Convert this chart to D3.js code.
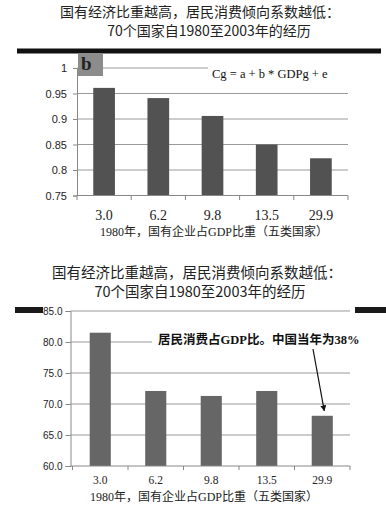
<!DOCTYPE html>
<html><head><meta charset="utf-8">
<script src="https://cdn.jsdelivr.net/npm/d3@7"></script>
<style>body{margin:0;background:#fff}svg{display:block}</style>
</head><body>
<script>
const categories = ["3.0","6.2","9.8","13.5","29.9"];
const propensity = [0.961, 0.941, 0.906, 0.850, 0.823];
const consumptionShare = [81.5, 72.1, 71.3, 72.1, 68.1];
const topTicks = [0.75, 0.8, 0.85, 0.9, 0.95, 1];
const bottomTicks = [60, 65, 70, 75, 80, 85];
const titleLines = ["国有经济比重越高，居民消费倾向系数越低：", "70个国家自1980至2003年的经历"];
const xTitle = "1980年，国有企业占GDP比重（五类国家）";
const formula = "Cg = a + b * GDPg + e";
const note = "居民消费占GDP比。中国当年为38%";

const W = 386, H = 516;
const svg = d3.select("body").append("svg").attr("width", W).attr("height", H);
const CJK = "'Noto Sans CJK SC', sans-serif";
const SERIF = "'Liberation Serif', 'Noto Sans CJK SC', serif";
const SANS = "'Liberation Sans', Arial, sans-serif";

// ---------- Top chart ----------
const t = svg.append("g");
t.append("text").attr("x", 200).attr("y", 17).attr("text-anchor", "middle")
  .style("font-family", CJK).style("font-size", "14px").attr("fill", "#222").text(titleLines[0]);
t.append("text").attr("x", 209).attr("y", 36).attr("text-anchor", "middle")
  .style("font-family", CJK).style("font-size", "14px").attr("fill", "#222").text(titleLines[1]);
t.append("rect").attr("x", 17).attr("y", 48.5).attr("width", 364).attr("height", 5).attr("fill", "#111");

const x1 = d3.scaleBand().domain(categories).range([77, 348]).paddingInner(0.6).paddingOuter(0.3);
const y1 = d3.scaleLinear().domain([0.75, 1]).range([195.5, 68]);

t.selectAll(".g1").data(topTicks.slice(1)).join("line")
  .attr("x1", 77).attr("x2", 348).attr("y1", d => y1(d)).attr("y2", d => y1(d))
  .attr("stroke", "#9a9a9a").attr("stroke-width", 1);

t.selectAll(".b1").data(propensity).join("rect")
  .attr("x", (d, i) => x1(categories[i])).attr("width", x1.bandwidth())
  .attr("y", d => y1(d)).attr("height", d => y1(0.75) - y1(d)).attr("fill", "#525252");

const ay1 = t.append("g").attr("transform", "translate(77,0)")
  .call(d3.axisLeft(y1).tickValues(topTicks).tickSize(4).tickPadding(6).tickFormat(d => d === 1 ? "1" : d3.format("")(d)));
ay1.select(".domain").attr("stroke", "#888");
ay1.selectAll(".tick line").attr("stroke", "#888");
ay1.selectAll("text").style("font-family", SANS).style("font-size", "11px").attr("fill", "#222");

// x axis baseline and boundary ticks
t.append("line").attr("x1", 77).attr("x2", 348).attr("y1", 195.5).attr("y2", 195.5).attr("stroke", "#888");
const bounds1 = categories.map(c => x1(c) - x1.step() * x1.paddingInner() / 2).concat([348]);
t.selectAll(".tk1").data(bounds1).join("line")
  .attr("x1", d => d).attr("x2", d => d).attr("y1", 195.5).attr("y2", 200).attr("stroke", "#888");
t.selectAll(".xl1").data(categories).join("text")
  .attr("x", d => x1(d) + x1.bandwidth() / 2).attr("y", 220).attr("text-anchor", "middle")
  .style("font-family", SERIF).style("font-size", "14px").attr("fill", "#222").text(d => d);
t.append("text").attr("x", 214).attr("y", 236).attr("text-anchor", "middle")
  .style("font-family", SERIF).style("font-size", "12px").attr("fill", "#222").text(xTitle);

// b label box
t.append("rect").attr("x", 78).attr("y", 53).attr("width", 25).attr("height", 23).attr("fill", "#8c8c8c");
t.append("text").attr("x", 81).attr("y", 70).style("font-family", SERIF).style("font-size", "19px")
  .style("font-weight", "bold").attr("fill", "#222").text("b");
// formula
t.append("rect").attr("x", 208).attr("y", 58).attr("width", 142).attr("height", 26).attr("fill", "#fff");
t.append("text").attr("x", 212).attr("y", 78).style("font-family", SERIF).style("font-size", "12.5px")
  .attr("fill", "#111").text(formula);

// ---------- Bottom chart ----------
const b = svg.append("g");
b.append("text").attr("x", 197).attr("y", 278).attr("text-anchor", "middle")
  .style("font-family", CJK).style("font-size", "14.5px").attr("fill", "#222").text(titleLines[0]);
b.append("text").attr("x", 200).attr("y", 297).attr("text-anchor", "middle")
  .style("font-family", CJK).style("font-size", "14.5px").attr("fill", "#222").text(titleLines[1]);
b.append("rect").attr("x", 15).attr("y", 307).attr("width", 28).attr("height", 6).attr("fill", "#1a1a1a");
b.append("rect").attr("x", 355).attr("y", 307).attr("width", 31).attr("height", 6).attr("fill", "#1a1a1a");

const x2 = d3.scaleBand().domain(categories).range([72.5, 350]).paddingInner(0.62).paddingOuter(0.31);
const y2 = d3.scaleLinear().domain([60, 85]).range([466, 311]);

b.selectAll(".g2").data(bottomTicks.slice(1)).join("line")
  .attr("x1", 70.5).attr("x2", 350).attr("y1", d => y2(d)).attr("y2", d => y2(d))
  .attr("stroke", "#999").attr("stroke-width", 1);

b.selectAll(".b2").data(consumptionShare).join("rect")
  .attr("x", (d, i) => x2(categories[i])).attr("width", x2.bandwidth())
  .attr("y", d => y2(d)).attr("height", d => y2(60) - y2(d)).attr("fill", "#666");

const ay2 = b.append("g").attr("transform", "translate(70.5,0)")
  .call(d3.axisLeft(y2).tickValues(bottomTicks).tickSize(5).tickPadding(3).tickFormat(d3.format(".1f")));
ay2.select(".domain").attr("stroke", "#888");
ay2.selectAll(".tick line").attr("stroke", "#888");
ay2.selectAll("text").style("font-family", SANS).style("font-size", "10px").attr("fill", "#222");

b.append("line").attr("x1", 70.5).attr("x2", 350).attr("y1", 466).attr("y2", 466).attr("stroke", "#888");
const bounds2 = categories.map(c => x2(c) - x2.step() * x2.paddingInner() / 2).concat([350]);
b.selectAll(".tk2").data(bounds2).join("line")
  .attr("x1", d => d).attr("x2", d => d).attr("y1", 466).attr("y2", 470).attr("stroke", "#888");
b.selectAll(".xl2").data(categories).join("text")
  .attr("x", d => x2(d) + x2.bandwidth() / 2).attr("y", 484).attr("text-anchor", "middle")
  .style("font-family", SERIF).style("font-size", "11.5px").attr("fill", "#222").text(d => d);
b.append("text").attr("x", 204).attr("y", 501).attr("text-anchor", "middle")
  .style("font-family", SERIF).style("font-size", "12px").attr("fill", "#222").text(xTitle);

// annotation
b.append("rect").attr("x", 152).attr("y", 332).attr("width", 205).attr("height", 17).attr("fill", "#fff");
b.append("text").attr("x", 158).attr("y", 343.5).style("font-family", SERIF).style("font-size", "12.5px")
  .style("font-weight", "bold").attr("fill", "#111").text(note);
const defs = svg.append("defs");
defs.append("marker").attr("id", "ah").attr("viewBox", "0 0 10 10").attr("refX", 9).attr("refY", 5)
  .attr("markerWidth", 5).attr("markerHeight", 5).attr("orient", "auto")
  .append("path").attr("d", "M0,0L10,5L0,10z").attr("fill", "#111");
const lastX = x2(categories[4]) + x2.bandwidth() / 2;
b.append("line").attr("x1", 313).attr("y1", 349).attr("x2", lastX + 2).attr("y2", y2(consumptionShare[4]) - 5)
  .attr("stroke", "#111").attr("stroke-width", 1.2).attr("marker-end", "url(#ah)");
</script>
</body></html>
